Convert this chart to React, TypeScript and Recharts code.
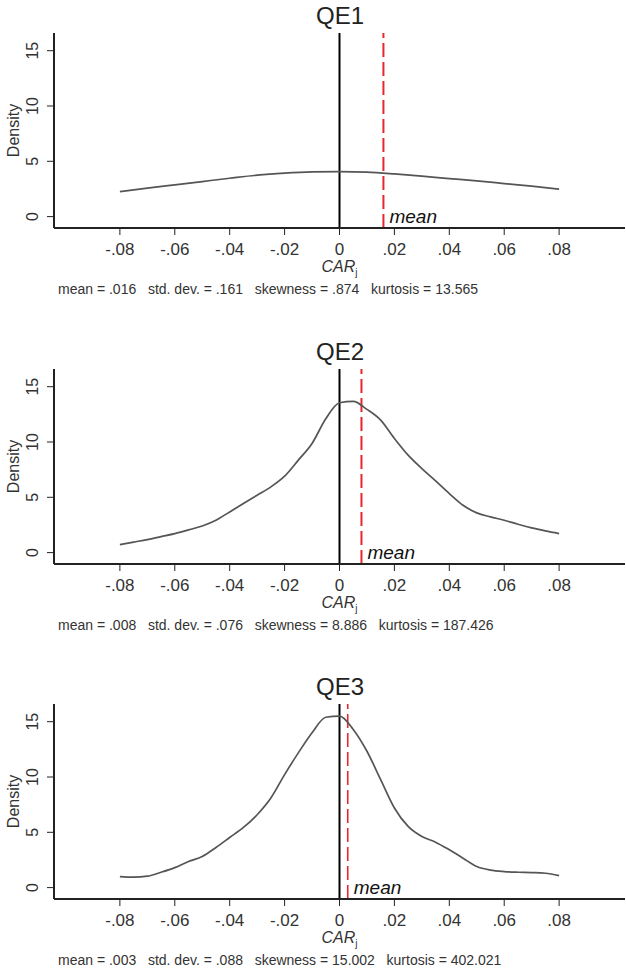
import React from "react";
import { LineChart, Line, XAxis, YAxis, ReferenceLine, Label } from "recharts";

// CAR grid for the kernel density estimates
const carGridCoarse = [-0.08, -0.07, -0.06, -0.05, -0.04, -0.03, -0.02, -0.01, 0, 0.01, 0.02, 0.03, 0.04, 0.05, 0.06, 0.07, 0.08];
const carGridFine = [
  -0.08, -0.075, -0.07, -0.065, -0.06, -0.055, -0.05, -0.045, -0.04, -0.035, -0.03, -0.025, -0.02, -0.015, -0.01, -0.005,
  0, 0.005, 0.01, 0.015, 0.02, 0.025, 0.03, 0.035, 0.04, 0.045, 0.05, 0.055, 0.06, 0.065, 0.07, 0.075, 0.08,
];

const qe1Density = [2.26, 2.57, 2.87, 3.17, 3.47, 3.75, 3.93, 4.04, 4.07, 4.02, 3.86, 3.66, 3.44, 3.23, 2.99, 2.75, 2.48];
const qe2Density = [
  0.72, 0.95, 1.18, 1.45, 1.72, 2.05, 2.41, 2.93, 3.68, 4.44, 5.19, 5.94, 6.91, 8.36, 9.87, 12.1,
  13.55, 13.68, 12.95, 11.98, 10.32, 8.81, 7.6, 6.49, 5.34, 4.28, 3.59, 3.23, 2.93, 2.56, 2.23, 1.96, 1.72,
];
const qe3Density = [
  1.0, 0.94, 1.03, 1.39, 1.81, 2.36, 2.81, 3.63, 4.53, 5.44, 6.59, 8.1, 10.22, 12.18, 14.0, 15.4,
  15.5, 14.3, 12.33, 9.76, 7.2, 5.53, 4.62, 4.11, 3.42, 2.66, 1.9, 1.58, 1.45, 1.39, 1.36, 1.3, 1.09,
];

const panelTitles = ["QE1", "QE2", "QE3"];
const means = [0.016, 0.008, 0.003];
const stdDevs = [0.161, 0.076, 0.088];
const skewness = [0.874, 8.886, 15.002];
const kurtosis = [13.565, 187.426, 402.021];

const xTickValues = [-0.08, -0.06, -0.04, -0.02, 0, 0.02, 0.04, 0.06, 0.08];
const yTickValues = [0, 5, 10, 15];

const FONT = "'Liberation Sans', Arial, sans-serif";
const TEXT = "#333";
const CHART_W = 626;
const CHART_H = 300;
const PANEL_TOPS = [0, 336, 671];

// Stata style: drop the leading zero
const stataNum = (v: number, digits: number) => {
  if (v === 0) return "0";
  const s = Math.abs(v).toFixed(digits).replace(/^0(?=\.)/, "");
  return (v < 0 ? "-" : "") + s;
};

const YTick = (props: any) => {
  const { y, payload } = props;
  return (
    <text
      transform={`translate(32, ${y}) rotate(-90)`}
      textAnchor="middle"
      dy="0.36em"
      fontSize={16}
      fill={TEXT}
      fontFamily={FONT}
    >
      {payload.value}
    </text>
  );
};

const DensityLabel = (props: any) => {
  const vb = props.viewBox || {};
  const cy = vb.y + vb.height / 2;
  return (
    <text transform={`translate(13, ${cy}) rotate(-90)`} textAnchor="middle" dy="0.36em" fontSize={16} fill={TEXT} fontFamily={FONT}>
      Density
    </text>
  );
};

const CarLabel = (props: any) => {
  const vb = props.viewBox || {};
  const cx = vb.x + vb.width / 2;
  return (
    <text x={cx} y={271.5} textAnchor="middle" fill={TEXT} fontFamily={FONT} fontSize={16}>
      <tspan fontStyle="italic">CAR</tspan>
      <tspan fontSize={10} dy={4}>j</tspan>
    </text>
  );
};

const MeanLabel = (props: any) => {
  const vb = props.viewBox || {};
  return (
    <text x={vb.x + 6} y={vb.y + vb.height - 4.7} fontSize={19} fontStyle="italic" fill="#111" fontFamily={FONT}>
      mean
    </text>
  );
};

function Panel({ idx, car, density }: { idx: number; car: number[]; density: number[] }) {
  const data = car.map((c, i) => ({ car: c, density: density[i] }));
  const stats =
    `mean = ${stataNum(means[idx], 3)}   std. dev. = ${stataNum(stdDevs[idx], 3)}   ` +
    `skewness = ${stataNum(skewness[idx], 3)}   kurtosis = ${stataNum(kurtosis[idx], 3)}`;
  return (
    <div style={{ position: "absolute", left: 0, top: PANEL_TOPS[idx], width: CHART_W, height: CHART_H }}>
      <div
        style={{
          position: "absolute",
          left: 54,
          width: 572,
          top: 1.6,
          textAlign: "center",
          fontSize: 24,
          lineHeight: "normal",
          color: "#222",
          fontFamily: FONT,
        }}
      >
        {panelTitles[idx]}
      </div>
      <LineChart width={CHART_W} height={CHART_H} data={data} margin={{ top: 33, right: 1, bottom: 0, left: 0 }}>
        <XAxis
          dataKey="car"
          type="number"
          domain={[-0.104, 0.104]}
          allowDataOverflow
          ticks={xTickValues}
          tickFormatter={(v: number) => stataNum(v, 2)}
          height={72}
          tickSize={7}
          tickMargin={8}
          tick={{ fontSize: 17, fill: TEXT, fontFamily: FONT }}
          axisLine={{ stroke: "#222", strokeWidth: 2 }}
          tickLine={{ stroke: "#222", strokeWidth: 1 }}
          interval={0}
        >
          <Label content={CarLabel} />
        </XAxis>
        <XAxis
          xAxisId="top"
          orientation="top"
          type="number"
          domain={[-0.104, 0.104]}
          height={0}
          tick={false}
          tickLine={false}
          axisLine={{ stroke: "#222", strokeWidth: 2 }}
        />
        <YAxis
          type="number"
          domain={[-1.03, 16.6]}
          allowDataOverflow
          ticks={yTickValues}
          width={54}
          tickSize={7}
          tick={YTick}
          axisLine={{ stroke: "#222", strokeWidth: 2 }}
          tickLine={{ stroke: "#222", strokeWidth: 1 }}
          interval={0}
        >
          <Label content={DensityLabel} />
        </YAxis>
        <YAxis
          yAxisId="right"
          orientation="right"
          type="number"
          domain={[-1.03, 16.6]}
          width={0}
          tick={false}
          tickLine={false}
          axisLine={{ stroke: "#222", strokeWidth: 2 }}
        />
        <ReferenceLine x={0} stroke="#000" strokeWidth={2} />
        <ReferenceLine
          x={means[idx]}
          stroke="#e8262b"
          strokeWidth={idx === 2 ? 1.6 : 2}
          strokeDasharray="14 5"
          label={<MeanLabel />}
        />
        <Line
          type="monotone"
          dataKey="density"
          stroke="#555"
          strokeWidth={1.7}
          dot={false}
          activeDot={false}
          isAnimationActive={false}
        />
      </LineChart>
      <div
        style={{
          position: "absolute",
          left: 58,
          top: 281,
          fontSize: 14,
          lineHeight: "normal",
          whiteSpace: "pre",
          color: TEXT,
          fontFamily: FONT,
        }}
      >
        {stats}
      </div>
    </div>
  );
}

export default function App() {
  return (
    <div style={{ position: "absolute", left: 0, top: 0, width: 626, height: 971, background: "#fff", overflow: "hidden" }}>
      <Panel idx={0} car={carGridCoarse} density={qe1Density} />
      <Panel idx={1} car={carGridFine} density={qe2Density} />
      <Panel idx={2} car={carGridFine} density={qe3Density} />
    </div>
  );
}
